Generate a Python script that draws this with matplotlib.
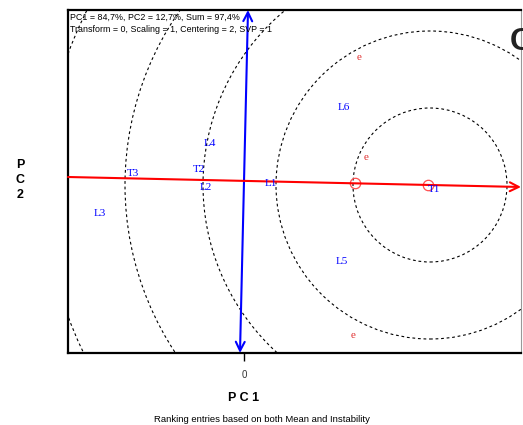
import numpy as np
import matplotlib
matplotlib.use("Agg")
import matplotlib.pyplot as plt
from matplotlib.patches import Circle

# ------------------------------
# Data (biplot coordinates)
# ------------------------------
entry_labels = ["T1", "T2", "T3", "L1", "L2", "L3", "L4", "L5", "L6"]
entry_x = [3.80, -0.90, -2.22, 0.54, -0.76, -2.88, -0.68, 1.96, 2.00]
entry_y = [-0.14, 0.26, 0.18, -0.04, -0.10, -0.62, 0.76, -1.60, 1.50]

env_labels = ["e", "e", "e"]
env_x = [2.30, 2.44, 2.18]
env_y = [2.48, 0.50, -3.08]

# average environment axis (abscissa and ordinate)
aec_x = [-3.52, 5.54]
aec_y = [0.10, -0.10]
ord_x = [-0.08, 0.08]
ord_y = [-3.42, 3.44]

# markers on the axis
mark_x = [2.22, 3.68]
mark_y = [-0.02, -0.06]

# concentric circles around the ideal entry
ideal_x, ideal_y = 3.72, -0.06
ring_radii = [1.54, 3.08, 4.54, 6.10, 7.70]

header1 = "PC1 = 84,7%, PC2 = 12,7%, Sum = 97,4%"
header2 = "Transform = 0, Scaling = 1, Centering = 2, SVP = 1"

# ------------------------------
# Figure
# ------------------------------
fig = plt.figure(figsize=(5.23, 4.25), dpi=100)
ax = fig.add_axes([68 / 523, 72 / 425, 453 / 523, 343 / 425])
ax.set_xlim(-3.52, 5.54)
ax.set_ylim(-3.42, 3.44)

for r in ring_radii:
    ax.add_patch(Circle((ideal_x, ideal_y), r, fill=False, ec="black",
                        lw=0.8, ls=(0, (2.5, 2.5))))

ax.annotate("", xy=(ord_x[1], ord_y[1]), xytext=(ord_x[0], ord_y[0]),
            arrowprops=dict(arrowstyle="<->", color="blue", lw=1.5,
                            mutation_scale=16, shrinkA=0, shrinkB=0))
ax.annotate("", xy=(aec_x[1], aec_y[1]), xytext=(aec_x[0], aec_y[0]),
            arrowprops=dict(arrowstyle="->", color="red", lw=1.5,
                            mutation_scale=16, shrinkA=0, shrinkB=0))

ax.plot(mark_x, mark_y, "o", ms=7.5, mfc="none", mec="#ff5050", mew=0.9)

for lab, x, y in zip(entry_labels, entry_x, entry_y):
    ax.text(x, y, lab, color="blue", fontsize=8, family="Liberation Serif",
            ha="center", va="center")
for lab, x, y in zip(env_labels, env_x, env_y):
    ax.text(x, y, lab, color="#e03030", fontsize=8, family="Liberation Serif",
            ha="center", va="center")

ax.text(0.004, 0.992, header1, transform=ax.transAxes, fontsize=6.4,
        family="Liberation Sans", va="top", ha="left")
ax.text(0.004, 0.957, header2, transform=ax.transAxes, fontsize=6.4,
        family="Liberation Sans", va="top", ha="left")

for side in ["left", "bottom", "top"]:
    ax.spines[side].set_linewidth(1.6)
ax.spines["right"].set_color("#999999")
ax.spines["right"].set_linewidth(0.8)

ax.set_xticks([0])
ax.set_xticklabels(["0"], fontsize=7, family="Liberation Sans", color="#333333")
ax.tick_params(axis="x", length=6, width=1, pad=6)
ax.set_yticks([])

fig.text(20 / 523, 1 - 180 / 425, "P\nC\n2", fontsize=9, fontweight="bold",
         family="Liberation Sans", ha="center", va="center", linespacing=1.3)
fig.text(244 / 523, 1 - 398 / 425, "P C 1", fontsize=9, fontweight="bold",
         family="Liberation Sans", ha="center", va="center")
fig.text(262 / 523, 1 - 419 / 425, "Ranking entries based on both Mean and Instability",
         fontsize=6.8, family="Liberation Sans", ha="center", va="center")
fig.text(510 / 523, 1 - 42 / 425, "C", fontsize=23, fontweight="bold",
         family="Liberation Sans", color="#222222", ha="left", va="center")

fig.savefig("out.png", dpi=100)
